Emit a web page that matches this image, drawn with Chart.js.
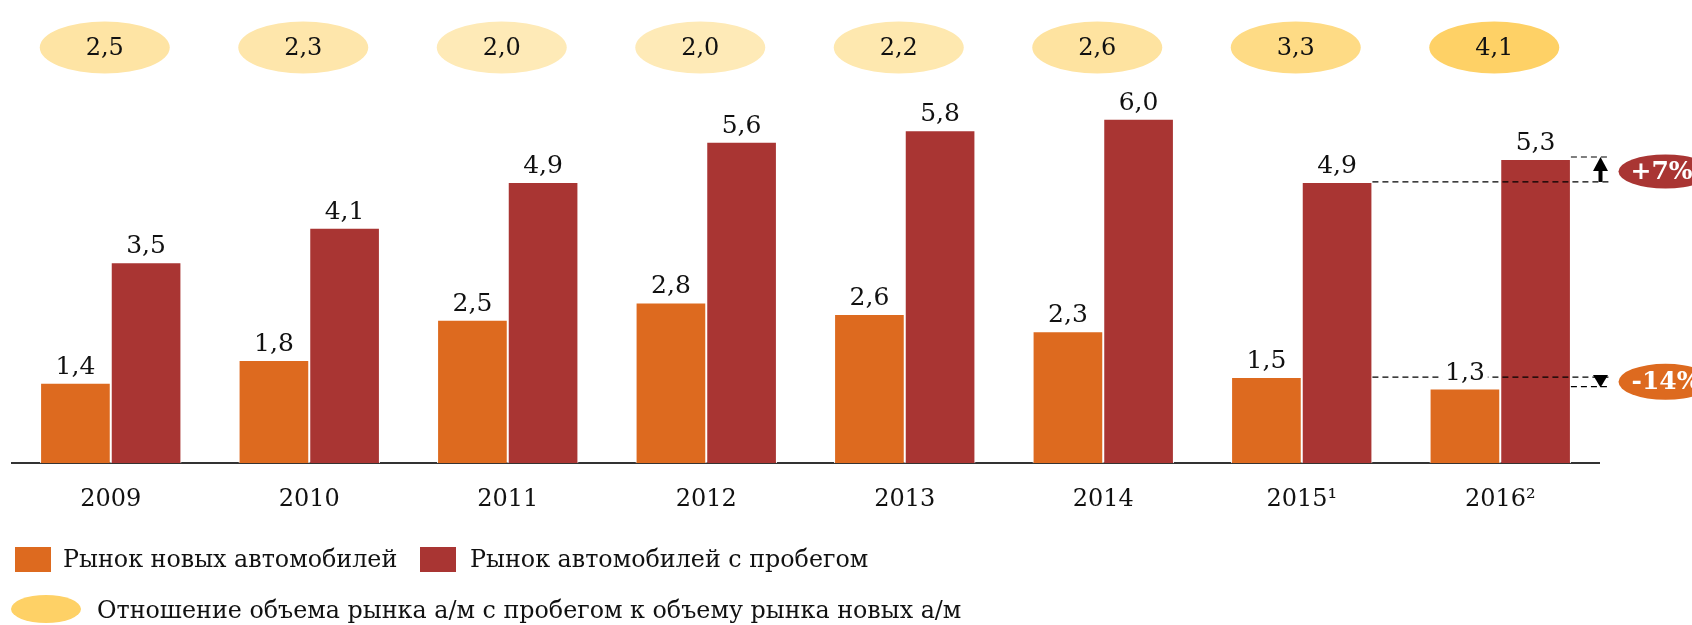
<!DOCTYPE html>
<html>
<head>
<meta charset="utf-8">
<script src="https://cdn.jsdelivr.net/npm/chart.js@4.4.0/dist/chart.umd.min.js"></script>
<style>
  html, body { margin: 0; padding: 0; background: #fff; }
  #wrap { width: 1692px; height: 625px; }
</style>
</head>
<body>
<div id="wrap"><canvas id="chartRynok"></canvas></div>
<script>
// данные
const years = ["2009", "2010", "2011", "2012", "2013", "2014", "2015¹", "2016²"];
const newCars = [1.4, 1.8, 2.5, 2.8, 2.6, 2.3, 1.5, 1.3];
const usedCars = [3.5, 4.1, 4.9, 5.6, 5.8, 6.0, 4.9, 5.3];
const ratio = [2.5, 2.3, 2.0, 2.0, 2.2, 2.6, 3.3, 4.1];
const changeUsed = "+7%";
const changeNew = "-14%";
const legendNew = "Рынок новых автомобилей";
const legendUsed = "Рынок автомобилей с пробегом";
const legendRatio = "Отношение объема рынка а/м с пробегом к объему рынка новых а/м";

const ORANGE = "#DD6A1F";
const RED = "#A93533";
const FONT = '"DejaVu Serif", Georgia, serif';

const fmt = v => v.toFixed(1).replace(".", ",");

// цвет эллипса темнее при большем отношении
function ratioColor(v) {
    const t = Math.max(0, Math.min(1, (v - 2.0) / 2.1));
    const g = Math.round(234 - 25 * t);
    const b = Math.round(183 - 81 * t);
    return "rgb(254," + g + "," + b + ")";
}

function ellipse(ctx, cx, cy, rx, ry, color) {
    ctx.beginPath();
    ctx.ellipse(cx, cy, rx, ry, 0, 0, Math.PI * 2);
    ctx.fillStyle = color;
    ctx.fill();
}

const overlay = {
    id: "overlay",
    afterDatasetsDraw(chart) {
        const { ctx, chartArea, scales: { y } } = chart;
        const metaNew = chart.getDatasetMeta(0);
        const metaUsed = chart.getDatasetMeta(1);
        const n = years.length;
        const b15 = metaUsed.data[n - 2];
        const b16 = metaUsed.data[n - 1];
        const r15 = b15.x + b15.width / 2;
        const r16 = b16.x + b16.width / 2;
        const ax = chartArea.right + 1;
        const lineEnd = ax + 8;

        const yU15 = y.getPixelForValue(usedCars[n - 2]);
        const yU16 = y.getPixelForValue(usedCars[n - 1]) - 2;
        const yN15 = y.getPixelForValue(newCars[n - 2]);
        const yN16 = y.getPixelForValue(newCars[n - 1]) - 2;

        ctx.save();
        // пунктир
        ctx.setLineDash([6, 4]);
        ctx.lineWidth = 1.2;
        ctx.strokeStyle = "#000";
        [[r15, yU15], [r16, yU16], [r15, yN15], [r16, yN16]].forEach(([x0, yy]) => {
            ctx.beginPath();
            ctx.moveTo(x0, yy);
            ctx.lineTo(lineEnd, yy);
            ctx.stroke();
        });
        ctx.setLineDash([]);

        // стрелки
        ctx.fillStyle = "#000";
        ctx.fillRect(ax - 2, yU16 + 12, 4, yU15 - yU16 - 12);
        ctx.beginPath();
        ctx.moveTo(ax, yU16);
        ctx.lineTo(ax - 7.5, yU16 + 14);
        ctx.lineTo(ax + 7.5, yU16 + 14);
        ctx.closePath();
        ctx.fill();

        ctx.beginPath();
        ctx.moveTo(ax - 7.5, yN15 - 2);
        ctx.lineTo(ax + 7.5, yN15 - 2);
        ctx.lineTo(ax, yN16 + 1);
        ctx.closePath();
        ctx.fill();

        // плашки с изменением
        const bx = ax + 65;
        const cyU = (yU15 + yU16) / 2 + 2;
        const cyN = (yN15 + yN16) / 2;
        ellipse(ctx, bx, cyU, 47, 17, RED);
        ellipse(ctx, bx, cyN, 47, 18, ORANGE);
        ctx.fillStyle = "#fff";
        ctx.font = "bold 25px " + FONT;
        ctx.textAlign = "left";
        ctx.textBaseline = "middle";
        ctx.fillText(changeUsed, bx - 35, cyU + 1);
        ctx.fillText(changeNew, bx - 34, cyN + 1);

        // подписи значений
        ctx.font = "25px " + FONT;
        ctx.textAlign = "center";
        ctx.textBaseline = "alphabetic";
        [[metaNew, newCars], [metaUsed, usedCars]].forEach(([meta, vals]) => {
            meta.data.forEach((bar, i) => {
                const txt = fmt(vals[i]);
                const w = ctx.measureText(txt).width;
                const base = bar.y - 9;
                ctx.fillStyle = "#fff";
                ctx.fillRect(bar.x - w / 2 - 3, base - 20, w + 6, 24);
                ctx.fillStyle = "#111";
                ctx.fillText(txt, bar.x, base);
            });
        });
        ctx.restore();
    },
    afterDraw(chart) {
        const { ctx, scales: { x } } = chart;
        ctx.save();
        // эллипсы с отношением
        ctx.font = "24px " + FONT;
        ctx.textAlign = "center";
        ctx.textBaseline = "middle";
        ratio.forEach((v, i) => {
            const cx = x.getPixelForValue(i) - 6;
            ellipse(ctx, cx, 47.5, 65, 26, ratioColor(v));
            ctx.fillStyle = "#111";
            ctx.fillText(fmt(v), cx, 49);
        });

        // легенда
        ctx.textAlign = "left";
        ctx.font = "23.8px " + FONT;
        ctx.fillStyle = ORANGE;
        ctx.fillRect(15, 547, 36, 25);
        ctx.fillStyle = RED;
        ctx.fillRect(420, 547, 36, 25);
        ctx.fillStyle = "#111";
        ctx.fillText(legendNew, 63, 561);
        ctx.fillText(legendUsed, 470, 561);
        ellipse(ctx, 46, 609, 35, 14, ratioColor(4.1));
        ctx.fillStyle = "#111";
        ctx.fillText(legendRatio, 97, 612);
        ctx.restore();
    }
};

new Chart(document.getElementById("chartRynok"), {
    type: "bar",
    data: {
        labels: years,
        datasets: [
            { label: legendNew, data: newCars, backgroundColor: ORANGE, borderColor: "#fff", borderWidth: 1 },
            { label: legendUsed, data: usedCars, backgroundColor: RED, borderColor: "#fff", borderWidth: 1 }
        ]
    },
    options: {
        responsive: true,
        maintainAspectRatio: false,
        animation: false,
        categoryPercentage: 0.712,
        barPercentage: 1,
        layout: { padding: { top: 4, left: 11.5, right: 92.5, bottom: 89 } },
        plugins: { legend: { display: false }, tooltip: { enabled: false } },
        scales: {
            x: {
                grid: { display: false, drawTicks: false },
                border: { display: true, color: "#333", width: 2 },
                ticks: { color: "#111", font: { family: FONT, size: 24 }, padding: 22 }
            },
            y: {
                display: false,
                min: 0,
                max: 8
            }
        }
    },
    plugins: [overlay]
});
</script>
</body>
</html>
